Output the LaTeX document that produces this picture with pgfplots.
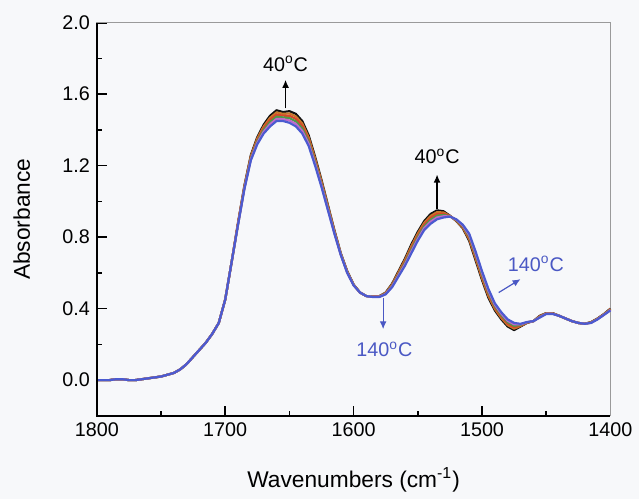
\documentclass[border=0pt]{standalone}
\usepackage{fontspec}
\setmainfont{Liberation Sans}
\usepackage{xcolor}
\usepackage{pgfplots}
\usepackage{pgfplotstable}
\pgfplotsset{compat=1.18}
\usetikzlibrary{arrows.meta, backgrounds}

\definecolor{bg}{HTML}{F7F8FA}
\definecolor{c40}{HTML}{111111}
\definecolor{c60}{HTML}{C8782A}
\definecolor{c80}{HTML}{D9462B}
\definecolor{c100}{HTML}{4E9A4A}
\definecolor{c120}{HTML}{C06ACB}
\definecolor{c140}{HTML}{4B5BD0}
\definecolor{framegray}{HTML}{9A9A9A}
\definecolor{lab}{HTML}{4A58C4}

% wavenumber, absorbance at 40, 60, 80, 100, 120, 140 C
\pgfplotstableread{
wn   a40   a60   a80   a100  a120  a140
1800 0.000 0.000 0.000 0.000 0.000 0.000
1795 0.000 0.000 0.000 0.000 0.000 0.000
1790 0.000 0.000 0.000 0.000 0.000 0.000
1785 0.005 0.005 0.005 0.005 0.005 0.005
1780 0.005 0.005 0.005 0.005 0.005 0.005
1775 0.000 0.000 0.000 0.000 0.000 0.000
1770 0.000 0.000 0.000 0.000 0.000 0.000
1765 0.005 0.005 0.005 0.005 0.005 0.005
1760 0.010 0.010 0.010 0.010 0.010 0.010
1755 0.015 0.015 0.015 0.015 0.015 0.015
1750 0.020 0.020 0.020 0.020 0.020 0.020
1745 0.030 0.030 0.030 0.030 0.030 0.030
1740 0.040 0.040 0.040 0.040 0.040 0.040
1735 0.060 0.060 0.060 0.060 0.060 0.060
1730 0.090 0.090 0.090 0.090 0.090 0.090
1725 0.130 0.130 0.130 0.130 0.130 0.130
1720 0.170 0.170 0.170 0.170 0.170 0.170
1715 0.210 0.210 0.210 0.210 0.210 0.210
1710 0.260 0.260 0.260 0.260 0.260 0.260
1705 0.320 0.320 0.320 0.320 0.320 0.320
1700 0.450 0.450 0.450 0.450 0.450 0.450
1695 0.660 0.660 0.660 0.660 0.660 0.660
1690 0.880 0.880 0.880 0.870 0.870 0.870
1685 1.090 1.086 1.082 1.078 1.074 1.070
1680 1.260 1.254 1.248 1.242 1.236 1.230
1675 1.360 1.352 1.344 1.336 1.328 1.320
1670 1.430 1.420 1.410 1.400 1.390 1.380
1665 1.480 1.468 1.456 1.444 1.432 1.420
1660 1.510 1.498 1.486 1.474 1.462 1.450
1655 1.500 1.490 1.480 1.470 1.460 1.450
1650 1.505 1.492 1.479 1.466 1.453 1.440
1645 1.490 1.476 1.462 1.448 1.434 1.420
1640 1.450 1.436 1.422 1.408 1.394 1.380
1635 1.370 1.358 1.346 1.334 1.322 1.310
1630 1.250 1.240 1.230 1.220 1.210 1.200
1625 1.120 1.112 1.104 1.096 1.088 1.080
1620 0.980 0.974 0.968 0.962 0.956 0.950
1615 0.840 0.836 0.832 0.828 0.824 0.820
1610 0.710 0.708 0.706 0.704 0.702 0.700
1605 0.610 0.608 0.606 0.604 0.602 0.600
1600 0.535 0.534 0.533 0.532 0.531 0.530
1595 0.490 0.490 0.490 0.490 0.490 0.490
1590 0.470 0.470 0.470 0.470 0.470 0.470
1585 0.470 0.469 0.468 0.467 0.466 0.465
1580 0.470 0.469 0.468 0.467 0.466 0.465
1575 0.490 0.488 0.486 0.484 0.482 0.480
1570 0.540 0.536 0.532 0.528 0.524 0.520
1565 0.610 0.604 0.598 0.592 0.586 0.580
1560 0.680 0.672 0.664 0.656 0.648 0.640
1555 0.760 0.750 0.740 0.730 0.720 0.710
1550 0.830 0.820 0.810 0.800 0.790 0.780
1545 0.890 0.880 0.870 0.860 0.850 0.840
1540 0.930 0.919 0.908 0.897 0.886 0.875
1535 0.950 0.940 0.930 0.920 0.910 0.900
1530 0.945 0.938 0.931 0.924 0.917 0.910
1525 0.920 0.919 0.918 0.917 0.916 0.915
1520 0.890 0.892 0.894 0.896 0.898 0.900
1515 0.850 0.854 0.858 0.862 0.866 0.870
1510 0.780 0.788 0.796 0.804 0.812 0.820
1505 0.670 0.680 0.690 0.700 0.710 0.720
1500 0.560 0.570 0.580 0.590 0.600 0.610
1495 0.460 0.470 0.480 0.490 0.500 0.510
1490 0.390 0.398 0.406 0.414 0.422 0.430
1485 0.340 0.348 0.356 0.364 0.372 0.380
1480 0.300 0.308 0.316 0.324 0.332 0.340
1475 0.280 0.288 0.296 0.304 0.312 0.320
1470 0.300 0.303 0.306 0.309 0.312 0.315
1465 0.320 0.321 0.322 0.323 0.324 0.325
1460 0.330 0.330 0.330 0.330 0.330 0.330
1455 0.360 0.358 0.356 0.354 0.352 0.350
1450 0.375 0.374 0.373 0.372 0.371 0.370
1445 0.375 0.374 0.373 0.372 0.371 0.370
1440 0.360 0.360 0.360 0.360 0.360 0.360
1435 0.345 0.345 0.345 0.345 0.345 0.345
1430 0.330 0.330 0.330 0.330 0.330 0.330
1425 0.320 0.320 0.320 0.320 0.320 0.320
1420 0.315 0.315 0.315 0.315 0.315 0.315
1415 0.325 0.324 0.323 0.322 0.321 0.320
1410 0.345 0.344 0.343 0.342 0.341 0.340
1405 0.370 0.369 0.368 0.367 0.366 0.365
1400 0.400 0.398 0.396 0.394 0.392 0.390
}\spectra

\begin{document}
\begin{tikzpicture}
\begin{axis}[
    width=260pt, height=199pt, scale only axis,
    xmin=1400, xmax=1800, x dir=reverse,
    ymin=-0.2, ymax=2.0,
    xtick={1400,1500,1600,1700,1800}, minor x tick num=1,
    ytick={0,0.4,0.8,1.2,1.6,2.0}, minor y tick num=1,
    xticklabel style={/pgf/number format/.cd, 1000 sep={}},
    yticklabel style={/pgf/number format/.cd, fixed, fixed zerofill, precision=1},
    /pgf/number format/assume math mode=true,
    tick align=inside, xtick pos=bottom, ytick pos=left,
    major tick length=5pt, minor tick length=2.5pt,
    tick style={black, line width=0.8pt},
    axis line style={framegray, line width=0.6pt},
    tick label style={font=\fontsize{10}{12}\selectfont},
    label style={font=\fontsize{11.5}{13}\selectfont},
    xlabel={Wavenumbers (cm\textsuperscript{-1})},
    ylabel={Absorbance},
    xlabel style={at={(axis description cs:0.5,-0.163)}, anchor=center},
    ylabel style={at={(axis description cs:-0.146,0.5)}, anchor=center},
    clip=false,
    every axis plot/.append style={line width=1.1pt, line join=round},
]
\addplot[c40]  table[x=wn, y=a40]  {\spectra};
\addplot[c60]  table[x=wn, y=a60]  {\spectra};
\addplot[c80]  table[x=wn, y=a80]  {\spectra};
\addplot[c100] table[x=wn, y=a100] {\spectra};
\addplot[c120] table[x=wn, y=a120] {\spectra};
\addplot[c140] table[x=wn, y=a140] {\spectra};

% black frame on left and bottom
\draw[black, line width=1pt] (rel axis cs:0,1) -- (rel axis cs:0,0) -- (rel axis cs:1,0);

% annotations
\draw[-{Latex[length=4pt,width=3.5pt]}, line width=0.6pt] (axis cs:1653,1.52) -- (axis cs:1653,1.68);
\node[font=\fontsize{10}{12}\selectfont] at (axis cs:1653,1.77) {40\textsuperscript{o}C};
\draw[-{Latex[length=4pt,width=3.5pt]}, line width=0.6pt] (axis cs:1535,0.96) -- (axis cs:1535,1.15);
\node[font=\fontsize{10}{12}\selectfont] at (axis cs:1535,1.25) {40\textsuperscript{o}C};
\draw[lab, -{Latex[length=4pt,width=3.5pt]}, line width=0.6pt] (axis cs:1577,0.46) -- (axis cs:1577,0.285);
\node[lab, font=\fontsize{10}{12}\selectfont] at (axis cs:1576,0.17) {140\textsuperscript{o}C};
\draw[lab, -{Latex[length=4pt,width=3.5pt]}, line width=0.6pt] (axis cs:1487,0.49) -- (axis cs:1470,0.565);
\node[lab, font=\fontsize{10}{12}\selectfont] at (axis cs:1458,0.65) {140\textsuperscript{o}C};

% margins
\path (axis description cs:0,1) -- ++(0pt,11.5pt);
\path (axis description cs:0,0.5) -- ++(-49pt,0pt);
\end{axis}
\begin{scope}[on background layer]
\fill[bg] (current bounding box.south west) rectangle (current bounding box.north east);
\end{scope}
\end{tikzpicture}
\end{document}
